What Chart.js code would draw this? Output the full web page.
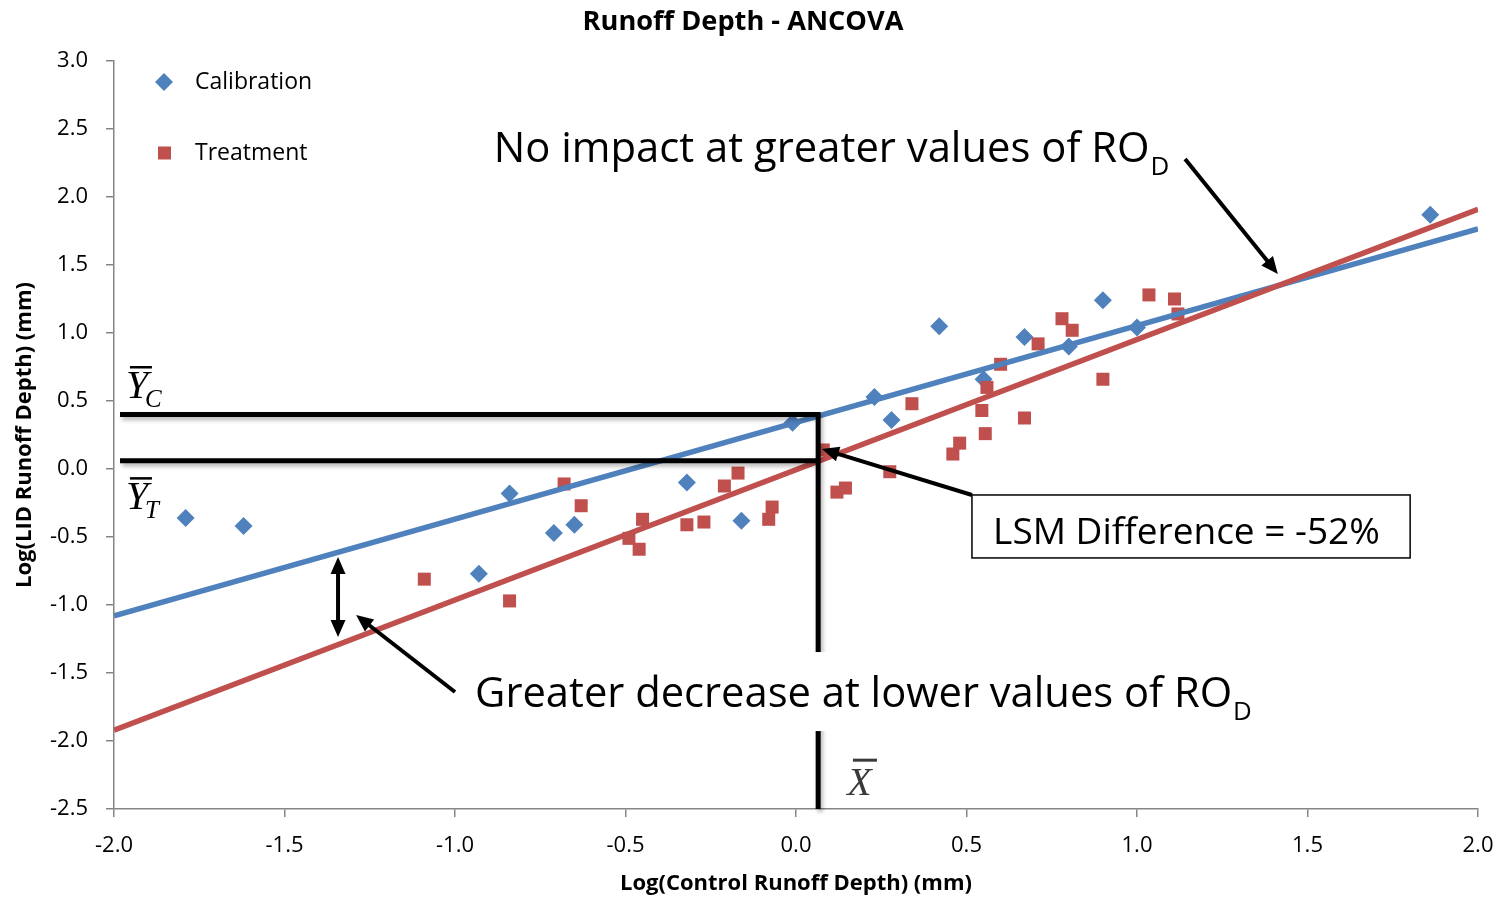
<!DOCTYPE html>
<html>
<head>
<meta charset="utf-8">
<title>Runoff Depth - ANCOVA</title>
<script src="https://cdn.jsdelivr.net/npm/chart.js@4.4.1/dist/chart.umd.min.js"></script>
<style>
  html, body { margin: 0; padding: 0; background: #fff; }
  #wrap { width: 1502px; height: 899px; }
</style>
</head>
<body>
<div id="wrap"><canvas id="chart" width="1502" height="899"></canvas></div>
<script>
// Calibration period (blue diamonds)
const calX = [-1.79, -1.62, -0.93, -0.84, -0.71, -0.65, -0.32, -0.16, -0.01, 0.23, 0.28, 0.42, 0.55, 0.67, 0.80, 0.90, 1.00, 1.86];
const calY = [-0.36, -0.42, -0.77, -0.18, -0.47, -0.41, -0.10, -0.38, 0.34, 0.53, 0.36, 1.05, 0.66, 0.97, 0.90, 1.24, 1.04, 1.87];

// Treatment period (red squares)
const trtX = [-1.09, -0.84, -0.68, -0.63, -0.49, -0.46, -0.45, -0.32, -0.27, -0.21, -0.17, -0.08, -0.07, 0.08, 0.12, 0.145,
              0.275, 0.34, 0.46, 0.48, 0.545, 0.555, 0.56, 0.60, 0.67, 0.71, 0.78, 0.81, 0.90, 1.035, 1.11, 1.12];
const trtY = [-0.81, -0.97, -0.11, -0.27, -0.51, -0.59, -0.37, -0.41, -0.39, -0.125, -0.03, -0.37, -0.28, 0.14, -0.17, -0.14,
              -0.02, 0.48, 0.11, 0.19, 0.43, 0.26, 0.60, 0.77, 0.375, 0.92, 1.105, 1.02, 0.66, 1.28, 1.25, 1.14];

// fitted ANCOVA lines (end points at the axis limits)
const fitX = [-2, 2];
const calFitY = [-1.08, 1.765];
const trtFitY = [-1.92, 1.91];

// least square means
const meanX = 0.065;
const meanYC = 0.40;
const meanYT = 0.06;

const xTicks = [-2.0, -1.5, -1.0, -0.5, 0.0, 0.5, 1.0, 1.5, 2.0];
const yTicks = [-2.5, -2.0, -1.5, -1.0, -0.5, 0.0, 0.5, 1.0, 1.5, 2.0, 2.5, 3.0];

const BLUE = '#4F81BD';
const RED = '#C0504D';
const AXIS = '#868686';
const SANS = '"Open Sans", Lato, sans-serif';
const SERIF = '"Liberation Serif", "DejaVu Serif", serif';

const toPoints = (xs, ys) => xs.map((x, i) => ({ x: x, y: ys[i] }));

// font size that makes text fill a given width
function fitFont(ctx, text, width, weight) {
  ctx.font = weight + ' 100px ' + SANS;
  return 100 * width / ctx.measureText(text).width;
}

function arrow(ctx, x1, y1, x2, y2, both) {
  const len = 17, half = 7.5;
  const a = Math.atan2(y2 - y1, x2 - x1);
  const head = (x, y, ang) => {
    ctx.beginPath();
    ctx.moveTo(x, y);
    ctx.lineTo(x - len * Math.cos(ang) + half * Math.sin(ang), y - len * Math.sin(ang) - half * Math.cos(ang));
    ctx.lineTo(x - len * Math.cos(ang) - half * Math.sin(ang), y - len * Math.sin(ang) + half * Math.cos(ang));
    ctx.closePath();
    ctx.fill();
  };
  ctx.beginPath();
  ctx.moveTo(both ? x1 + (len - 2) * Math.cos(a) : x1, both ? y1 + (len - 2) * Math.sin(a) : y1);
  ctx.lineTo(x2 - (len - 2) * Math.cos(a), y2 - (len - 2) * Math.sin(a));
  ctx.stroke();
  head(x2, y2, a);
  if (both) head(x1, y1, a + Math.PI);
}

// text with a subscript, e.g. RO_D
function textWithSub(ctx, main, sub, x, y, size) {
  ctx.font = size + 'px ' + SANS;
  ctx.fillText(main, x, y);
  const w = ctx.measureText(main).width;
  ctx.font = (size * 0.62) + 'px ' + SANS;
  ctx.fillText(sub, x + w + 1, y + size * 0.3);
  return w;
}

function meanLabel(ctx, letter, sub, x, y) {
  ctx.fillStyle = '#000';
  ctx.font = 'italic 40px ' + SERIF;
  ctx.fillText(letter, x, y);
  ctx.fillRect(x + 4, y - 32, 22, 2.5);
  ctx.font = 'italic 25px ' + SERIF;
  ctx.fillText(sub, x + 19, y + 9);
}

const annotations = {
  id: 'annotations',
  afterDatasetsDraw(chart) {
    const { ctx, chartArea } = chart;
    const X = v => chart.scales.x.getPixelForValue(v);
    const Y = v => chart.scales.y.getPixelForValue(v);
    ctx.save();
    ctx.textBaseline = 'alphabetic';
    ctx.textAlign = 'left';

    // mean lines
    ctx.save();
    ctx.shadowColor = 'rgba(0,0,0,0.3)';
    ctx.shadowBlur = 4;
    ctx.shadowOffsetX = 2;
    ctx.shadowOffsetY = 3;
    ctx.strokeStyle = '#000';
    ctx.lineWidth = 5;
    ctx.beginPath();
    ctx.moveTo(chartArea.left + 6, Y(meanYC));
    ctx.lineTo(X(meanX) + 2.5, Y(meanYC));
    ctx.moveTo(chartArea.left + 6, Y(meanYT));
    ctx.lineTo(X(meanX) + 2.5, Y(meanYT));
    ctx.moveTo(X(meanX), Y(meanYC) - 2.5);
    ctx.lineTo(X(meanX), chartArea.bottom);
    ctx.stroke();
    ctx.restore();

    ctx.fillStyle = '#000';
    ctx.strokeStyle = '#000';

    // lower annotation, on a white band that breaks the vertical line
    const gx = X(-0.941), gy = Y(-1.75);
    const gSize = fitFont(ctx, 'Greater decrease at lower values of RO', 757, 'normal');
    ctx.fillStyle = '#fff';
    ctx.fillRect(gx - 6, Y(-1.346), 800, 79);
    ctx.fillStyle = '#000';
    textWithSub(ctx, 'Greater decrease at lower values of RO', 'D', gx, gy, gSize);

    // upper annotation
    const nSize = fitFont(ctx, 'No impact at greater values of RO', 656, 'normal');
    textWithSub(ctx, 'No impact at greater values of RO', 'D', X(-0.886), Y(2.257), nSize);

    // LSM difference box
    const bx1 = X(0.516), by1 = Y(-0.191), bx2 = X(1.801), by2 = Y(-0.654);
    ctx.fillStyle = '#fff';
    ctx.fillRect(bx1, by1, bx2 - bx1, by2 - by1);
    ctx.lineWidth = 1.5;
    ctx.strokeRect(bx1, by1, bx2 - bx1, by2 - by1);
    ctx.fillStyle = '#000';
    const lSize = fitFont(ctx, 'LSM Difference = -52%', 387, 'normal');
    ctx.font = lSize + 'px ' + SANS;
    ctx.fillText('LSM Difference = -52%', X(0.578), Y(-0.551));

    // arrows
    ctx.lineWidth = 4;
    arrow(ctx, X(1.141), Y(2.279), X(1.413), Y(1.434), false);
    arrow(ctx, bx1, by1, X(0.076), Y(0.147), false);
    arrow(ctx, X(-1.0), Y(-1.64), X(-1.29), Y(-1.074), false);
    arrow(ctx, X(-1.343), Y(-0.647), X(-1.343), Y(-1.235), true);

    // mean labels
    meanLabel(ctx, 'Y', 'C', X(-1.965), Y(0.522));
    meanLabel(ctx, 'Y', 'T', X(-1.965), Y(-0.295));
    ctx.fillStyle = '#3a3a3a';
    ctx.font = 'italic 40px ' + SERIF;
    ctx.fillText('X', X(0.15), Y(-2.40));
    ctx.fillRect(X(0.167), Y(-2.13), 24, 3);

    // legend
    ctx.fillStyle = BLUE;
    ctx.beginPath();
    ctx.moveTo(164, 73); ctx.lineTo(173, 82); ctx.lineTo(164, 91); ctx.lineTo(155, 82);
    ctx.closePath();
    ctx.fill();
    ctx.fillStyle = RED;
    ctx.fillRect(158, 146.5, 13, 13);
    ctx.fillStyle = '#000';
    ctx.font = '23px ' + SANS;
    ctx.textBaseline = 'middle';
    ctx.fillText('Calibration', 195, 82);
    ctx.fillText('Treatment', 195, 153);

    // chart title
    ctx.textAlign = 'center';
    const tSize = fitFont(ctx, 'Runoff Depth - ANCOVA', 321, 'bold');
    ctx.font = 'bold ' + tSize + 'px ' + SANS;
    ctx.fillText('Runoff Depth - ANCOVA', 743, 22);
    ctx.restore();
  }
};

const axisStyle = {
  grid: { display: true, drawOnChartArea: false, drawTicks: true, tickLength: 8, color: AXIS, lineWidth: 1.5 },
  border: { display: true, color: AXIS, width: 1.5 }
};

new Chart(document.getElementById('chart'), {
  type: 'scatter',
  data: {
    datasets: [
      {
        type: 'line',
        label: 'Calibration fit',
        data: toPoints(fitX, calFitY),
        borderColor: BLUE,
        borderWidth: 5.5,
        pointRadius: 0,
        fill: false,
        order: 1
      },
      {
        type: 'line',
        label: 'Treatment fit',
        data: toPoints(fitX, trtFitY),
        borderColor: RED,
        borderWidth: 5.5,
        pointRadius: 0,
        fill: false,
        order: 0
      },
      {
        label: 'Calibration',
        data: toPoints(calX, calY),
        pointStyle: 'rectRot',
        pointRadius: 9,
        backgroundColor: BLUE,
        borderWidth: 0,
        order: 3
      },
      {
        label: 'Treatment',
        data: toPoints(trtX, trtY),
        pointStyle: 'rect',
        pointRadius: 9.2,
        backgroundColor: RED,
        borderWidth: 0,
        order: 2
      }
    ]
  },
  options: {
    responsive: false,
    animation: false,
    layout: { padding: { top: 61, right: 24, bottom: 0, left: 0 } },
    plugins: {
      legend: { display: false },
      title: { display: false },
      tooltip: { enabled: false }
    },
    scales: {
      x: {
        type: 'linear',
        min: -2,
        max: 2,
        ...axisStyle,
        afterBuildTicks: scale => { scale.ticks = xTicks.map(v => ({ value: v })); },
        afterFit: scale => {
          scale.height = 90;
          // let the layout padding alone decide where the plot ends
          scale.paddingLeft = 0;
          scale.paddingRight = 0;
        },
        ticks: {
          padding: 16,
          maxRotation: 0,
          color: '#000',
          font: { family: SANS, size: 22 },
          callback: v => v.toFixed(1)
        },
        title: {
          display: true,
          text: 'Log(Control Runoff Depth) (mm)',
          color: '#000',
          font: { family: SANS, size: 22, weight: 'bold' },
          padding: { top: 0, bottom: 2 }
        }
      },
      y: {
        type: 'linear',
        min: -2.5,
        max: 3,
        ...axisStyle,
        afterBuildTicks: scale => { scale.ticks = yTicks.map(v => ({ value: v })); },
        afterFit: scale => { scale.width = 114; },
        ticks: {
          padding: 18,
          color: '#000',
          font: { family: SANS, size: 22 },
          callback: v => v.toFixed(1)
        },
        title: {
          display: true,
          text: 'Log(LID Runoff Depth) (mm)',
          color: '#000',
          font: { family: SANS, size: 22, weight: 'bold' },
          padding: { top: 12, bottom: 0 }
        }
      }
    }
  },
  plugins: [annotations]
});
</script>
</body>
</html>
